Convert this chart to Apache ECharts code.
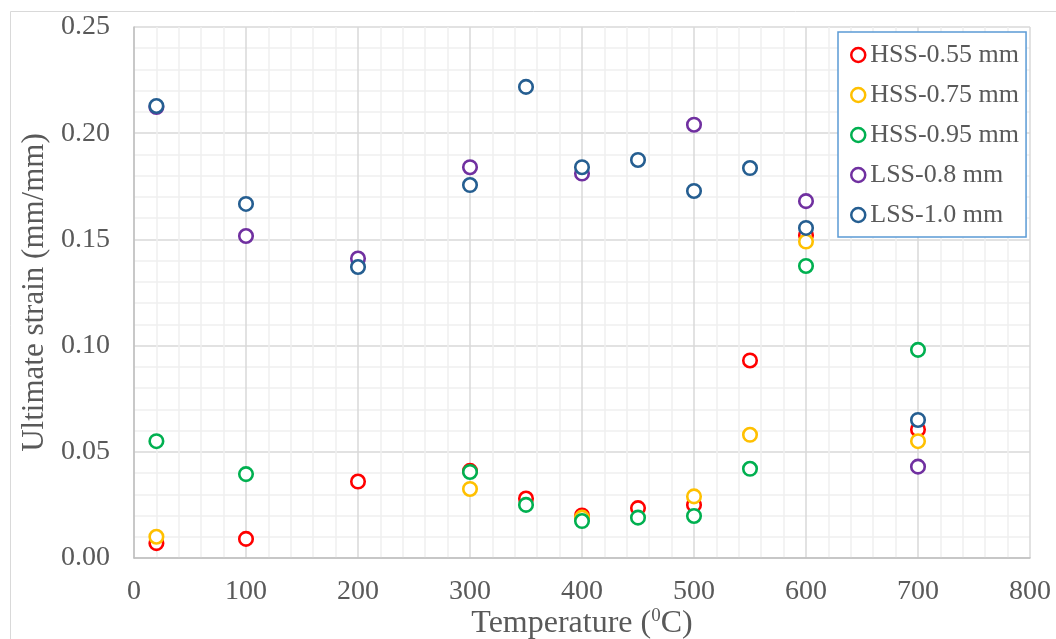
<!DOCTYPE html>
<html>
<head>
<meta charset="utf-8">
<script src="https://cdn.jsdelivr.net/npm/echarts@6/dist/echarts.min.js"></script>
<style>
  html, body { margin: 0; padding: 0; background: #fff; }
  #chart { width: 1056px; height: 639px; }
</style>
</head>
<body>
<div id="chart"></div>
<script>
// data: [temperature, ultimate strain]
var hss055 = [[20, 0.007], [100, 0.009], [200, 0.036], [300, 0.041], [350, 0.028], [400, 0.020], [450, 0.0235], [500, 0.025], [550, 0.093], [600, 0.152], [700, 0.0605]];
var hss075 = [[20, 0.010], [300, 0.0325], [400, 0.019], [500, 0.029], [550, 0.058], [600, 0.149], [700, 0.055]];
var hss095 = [[20, 0.055], [100, 0.0395], [300, 0.0405], [350, 0.025], [400, 0.0174], [450, 0.019], [500, 0.0198], [550, 0.042], [600, 0.1375], [700, 0.098]];
var lss08 = [[20, 0.2123], [100, 0.1516], [200, 0.141], [300, 0.184], [400, 0.181], [500, 0.204], [600, 0.168], [700, 0.043]];
var lss10 = [[20, 0.2128], [100, 0.1667], [200, 0.137], [300, 0.1756], [350, 0.2218], [400, 0.184], [450, 0.1874], [500, 0.1728], [550, 0.1836], [600, 0.1554], [700, 0.065]];

var seriesNames = ['HSS-0.55 mm', 'HSS-0.75 mm', 'HSS-0.95 mm', 'LSS-0.8 mm', 'LSS-1.0 mm'];
var seriesData = [hss055, hss075, hss095, lss08, lss10];
var colors = ['#ff0000', '#ffc000', '#00b050', '#7030a0', '#255e91'];

var font = 'Liberation Serif';
var textColor = '#595959';

var myChart = echarts.init(document.getElementById('chart'), null, { renderer: 'canvas' });

var series = seriesNames.map(function (name, i) {
  return {
    name: name,
    type: 'scatter',
    symbol: 'circle',
    symbolSize: 13.5,
    itemStyle: {
      color: '#fff',
      borderColor: colors[i],
      borderWidth: 2.6,
      opacity: 1
    },
    data: seriesData[i]
  };
});

var option = {
  animation: false, // no animation for the screenshot
  backgroundColor: '#fff',
  graphic: [{
    type: 'rect',
    shape: { x: 10.5, y: 11.5, width: 1060, height: 640 },
    style: { fill: 'none', stroke: '#d9d9d9', lineWidth: 1 },
    silent: true,
    z: -10
  }],
  grid: {
    left: 134,
    right: 26,
    top: 27,
    bottom: 81,
    outerBoundsMode: 'none' // v6 would otherwise shrink the grid to fit the names
  },
  legend: {
    orient: 'vertical',
    left: 838,
    top: 32,
    padding: [9, 7, 8, 12],
    itemGap: 12,
    itemWidth: 14,
    itemHeight: 14,
    backgroundColor: '#fff',
    borderColor: '#5b9bd5',
    borderWidth: 1.5,
    itemStyle: { color: '#fff', borderWidth: 2.5 },
    textStyle: {
      fontFamily: font,
      fontSize: 26,
      color: textColor,
      lineHeight: 28
    },
    data: seriesNames
  },
  xAxis: {
    type: 'value',
    min: 0,
    max: 800,
    interval: 100,
    name: 'Temperature ({sup|0}C)',
    nameLocation: 'middle',
    nameGap: 49,
    nameMoveOverlap: false,
    nameTextStyle: {
      fontFamily: font,
      fontSize: 32,
      color: textColor,
      rich: {
        sup: { fontFamily: font, fontSize: 19, color: textColor, verticalAlign: 'top', lineHeight: 34 }
      }
    },
    axisLine: { lineStyle: { color: '#bfbfbf', width: 1.5 } },
    axisTick: { show: false },
    axisLabel: {
      fontFamily: font,
      fontSize: 28,
      color: textColor,
      margin: 20
    },
    splitLine: { show: true, lineStyle: { color: '#d9d9d9', width: 1.5 } },
    minorTick: { show: false, splitNumber: 5 },
    minorSplitLine: { show: true, lineStyle: { color: '#f0f0f0', width: 1.5 } }
  },
  yAxis: {
    type: 'value',
    min: 0,
    max: 0.25,
    interval: 0.05,
    name: 'Ultimate strain (mm/mm)',
    nameLocation: 'middle',
    nameGap: 84,
    nameMoveOverlap: false,
    nameTextStyle: {
      fontFamily: font,
      fontSize: 31,
      color: textColor
    },
    axisLine: { show: true, lineStyle: { color: '#bfbfbf', width: 1.5 } },
    axisTick: { show: false },
    axisLabel: {
      fontFamily: font,
      fontSize: 28,
      color: textColor,
      margin: 24,
      formatter: function (v) { return v.toFixed(2); }
    },
    splitLine: { show: true, lineStyle: { color: '#d9d9d9', width: 1.5 } },
    minorTick: { show: false, splitNumber: 5 },
    minorSplitLine: { show: true, lineStyle: { color: '#f0f0f0', width: 1.5 } }
  },
  series: series
};

myChart.setOption(option);
</script>
</body>
</html>
